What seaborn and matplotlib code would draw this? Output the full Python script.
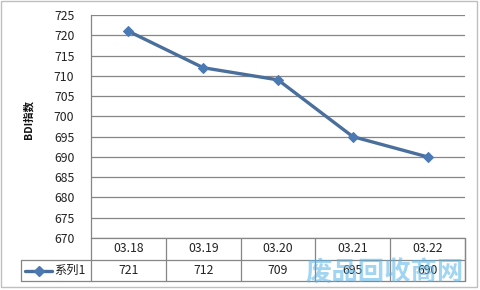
import matplotlib
matplotlib.use("Agg")
import matplotlib.pyplot as plt
import seaborn as sns
import pandas as pd
from matplotlib.patches import Rectangle
from matplotlib.lines import Line2D

categories = ["03.18", "03.19", "03.20", "03.21", "03.22"]
values = [721, 712, 709, 695, 690]
series_name = "系列1"
y_label = "BDI指数"
y_ticks = [670, 675, 680, 685, 690, 695, 700, 705, 710, 715, 720, 725]
watermark = "废品回收商网"

sns.set_theme(style="white")
plt.rcParams['font.family'] = ['Noto Sans CJK SC', 'DejaVu Sans']

W, H = 481, 290
fig = plt.figure(figsize=(W / 100, H / 100), dpi=100)
fig.patch.set_facecolor("white")

L, R, T, B = 91, 465, 15, 238
ax = fig.add_axes([L / W, 1 - B / H, (R - L) / W, (B - T) / H])

df = pd.DataFrame({"cat": categories, "val": values})
line_color = "#4A6F9C"
marker_color = "#4A79B4"
sns.lineplot(data=df, x="cat", y="val", ax=ax, color=line_color, linewidth=2.4,
             marker="D", markersize=5, markerfacecolor=marker_color,
             markeredgecolor=marker_color, sort=False)

ax.set_xlim(-0.5, len(categories) - 0.5)
ax.set_ylim(y_ticks[0], y_ticks[-1])
ax.set_yticks(y_ticks)
ax.set_xticks([])
ax.set_xlabel("")
ax.set_ylabel("")
for v in y_ticks:
    ax.axhline(v, color="#868686", linewidth=0.9, zorder=0)
for s in ["top", "right", "bottom"]:
    ax.spines[s].set_visible(False)
ax.spines["left"].set_color("#868686")
ax.spines["left"].set_linewidth(0.9)
ax.tick_params(axis="y", length=0, pad=12, labelsize=8.8, labelcolor="#222222")

# y label
fig.text(28 / W, 1 - 120 / H, y_label, rotation=90, ha="center", va="center",
         fontsize=7.5, fontweight="bold", color="#111111")

# data table
gc = "#868686"
row1_top, row1_bot, row2_bot = 238, 260, 281
col_w = (R - L) / len(categories)

def fy(y):
    return 1 - y / H

def fx(x):
    return x / W

lines = []
lines.append(([21, R], [row1_bot, row1_bot]))
lines.append(([21, R], [row2_bot, row2_bot]))
lines.append(([R, R], [row1_top, row2_bot]))
lines.append(([21, 21], [row1_bot, row2_bot]))
lines.append(([L, R], [row1_top, row1_top]))
for i in range(len(categories) + 1):
    x = L + i * col_w
    lines.append(([x, x], [row1_top, row2_bot]))
for xs, ys in lines:
    fig.add_artist(Line2D([fx(v) for v in xs], [fy(v) for v in ys],
                          color=gc, linewidth=0.9))

for i, (c, v) in enumerate(zip(categories, values)):
    xc = L + (i + 0.5) * col_w
    fig.text(fx(xc), fy((row1_top + row1_bot) / 2), c, ha="center", va="center",
             fontsize=8.8, color="#222222")
    fig.text(fx(xc), fy((row1_bot + row2_bot) / 2), str(v), ha="center", va="center",
             fontsize=8.8, color="#222222")

# legend key in table
ym = (row1_bot + row2_bot) / 2
fig.add_artist(Line2D([fx(25), fx(52)], [fy(ym), fy(ym)], color=line_color, linewidth=2.4))
fig.add_artist(Line2D([fx(38.5)], [fy(ym)], color=marker_color, marker="D", markersize=5,
                      markeredgecolor=marker_color))
fig.text(fx(54), fy(ym), series_name, ha="left", va="center", fontsize=8.8, color="#222222")

# chart border
fig.add_artist(Rectangle((fx(1), fy(287)), fx(476), (286) / H, fill=False,
                         edgecolor="#BFBFBF", linewidth=1.0))

# watermark
fig.text(fx(385), fy(272), watermark, ha="center", va="center", fontsize=19,
         fontweight="bold", color="#56B4E9", alpha=0.55)

fig.savefig("out.png", dpi=100, facecolor="white")
